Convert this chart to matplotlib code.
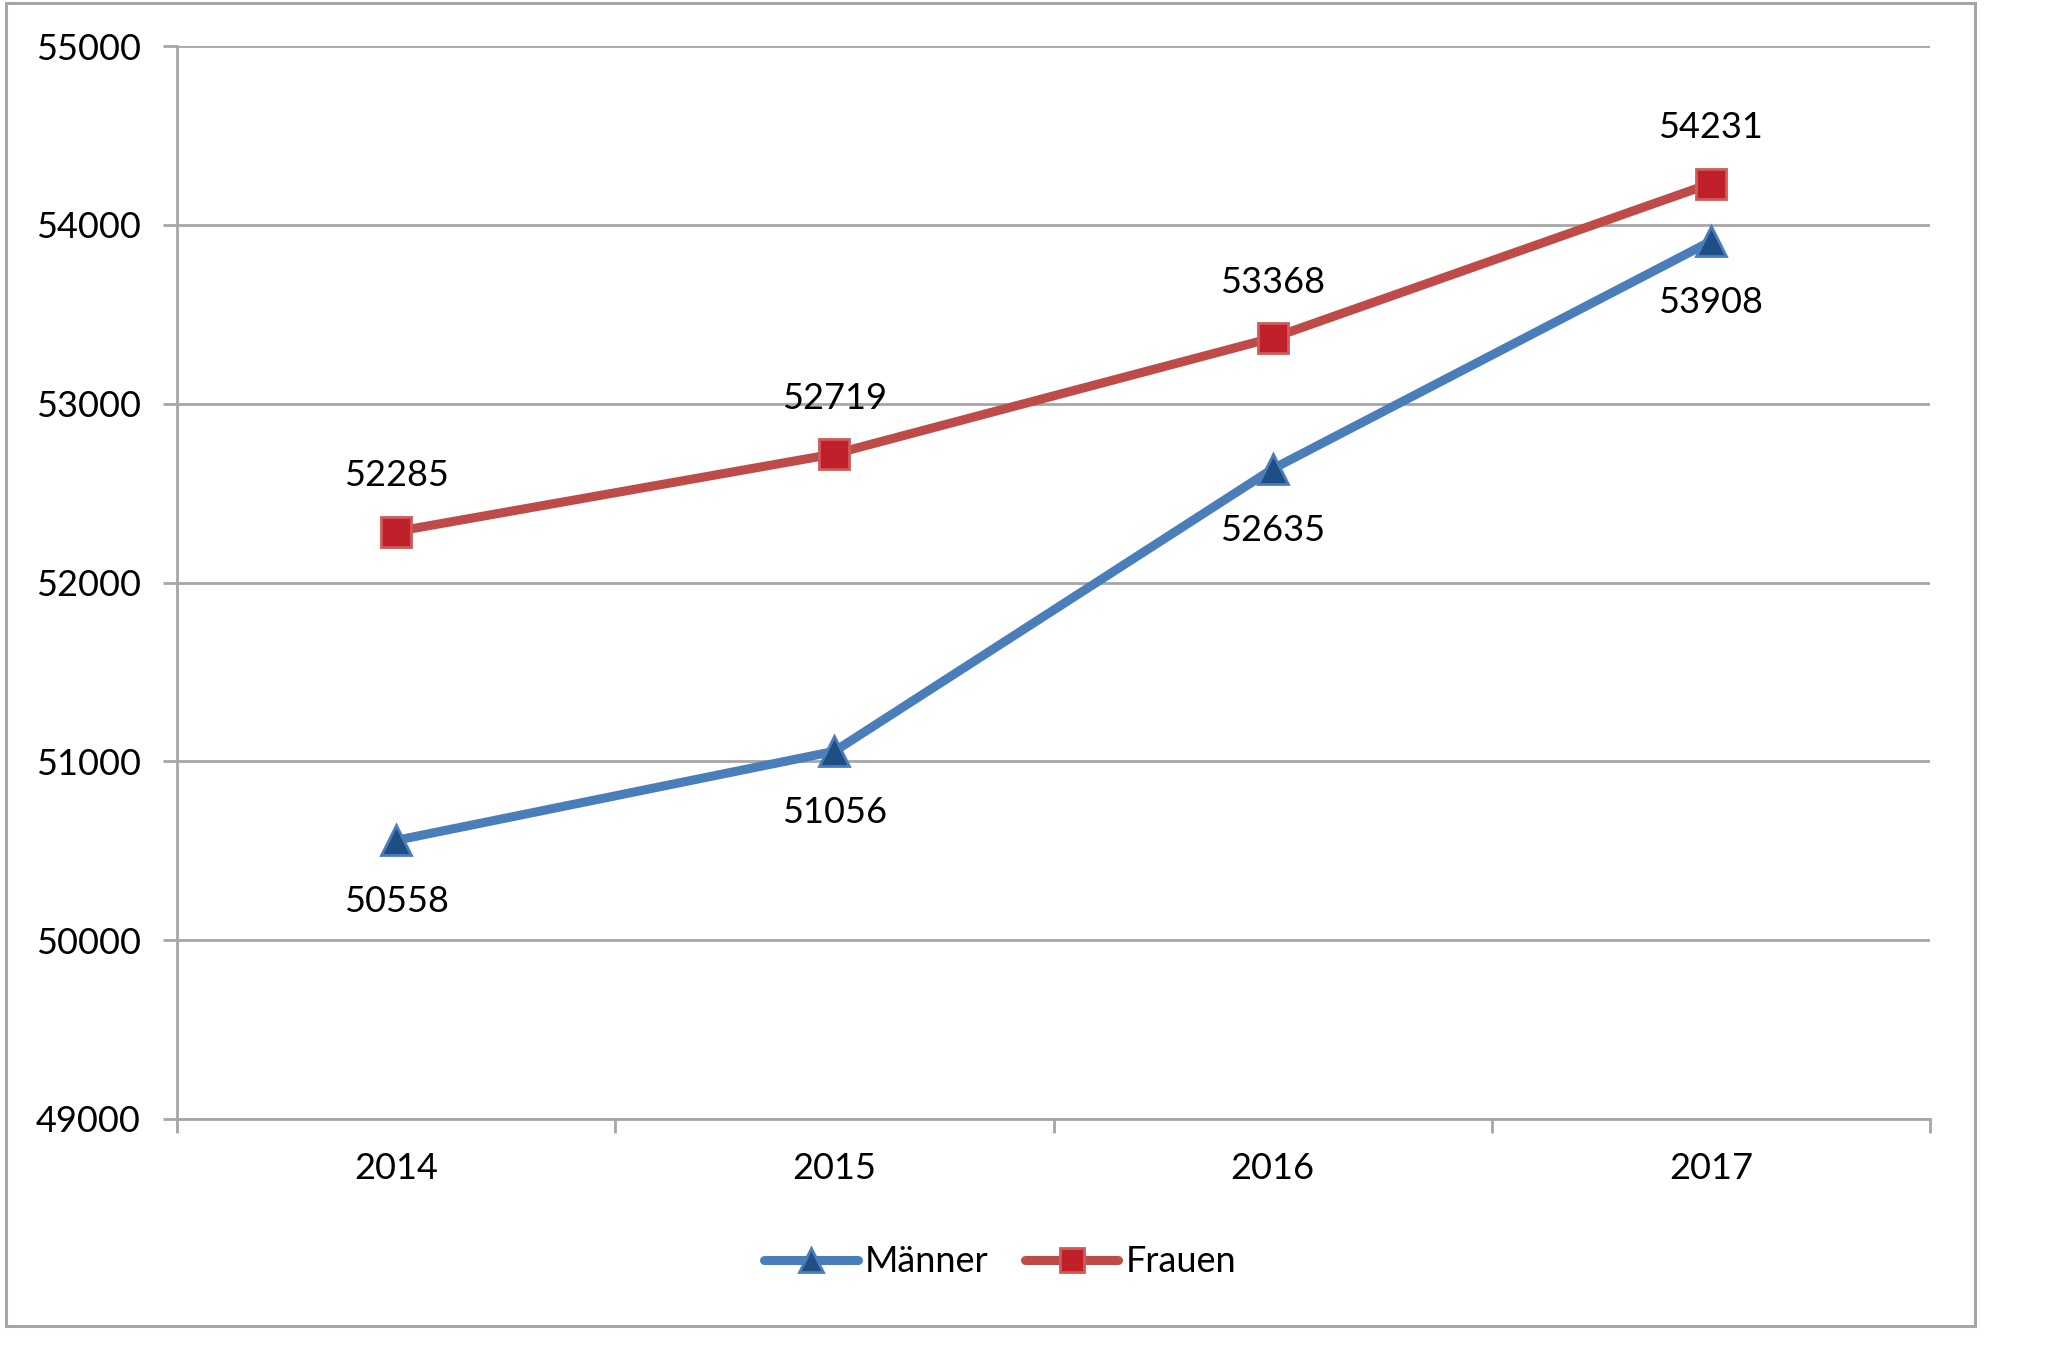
import matplotlib
matplotlib.use("Agg")
import matplotlib.pyplot as plt
from matplotlib.patches import Rectangle

years = ["2014", "2015", "2016", "2017"]
maenner = [50558, 51056, 52635, 53908]
frauen = [52285, 52719, 53368, 54231]
y_ticks = [49000, 50000, 51000, 52000, 53000, 54000, 55000]

plt.rcParams['font.family'] = ['Lato', 'DejaVu Sans']
fs = 26
grey = '#a6a6a6'

fig = plt.figure(figsize=(20.49, 13.48), dpi=100)
ax = fig.add_axes([177/2049, 1 - 1119/1348, (1930-177)/2049, (1119-46)/1348])

# outer chart frame
fig.patches.append(Rectangle((6/2049, 1 - 1326/1348), (1975-6)/2049, 1323/1348,
                             transform=fig.transFigure, fill=False,
                             edgecolor=grey, linewidth=2.2, zorder=0))

x = list(range(len(years)))
ax.plot(x, maenner, color='#4a7ebb', linewidth=6.5, marker='^', markersize=22,
        markerfacecolor='#1f4e85', markeredgecolor='#4a7ebb', markeredgewidth=2,
        label='Männer', zorder=3, solid_capstyle='round')
ax.plot(x, frauen, color='#be4b48', linewidth=6.5, marker='s', markersize=21,
        markerfacecolor='#c0202a', markeredgecolor='#cf5a58', markeredgewidth=2,
        label='Frauen', zorder=3, solid_capstyle='round')

for xi, v in zip(x, frauen):
    ax.annotate(str(v), (xi, v), xytext=(0, 40), textcoords='offset points',
                ha='center', va='center', fontsize=fs, color='black')
for xi, v in zip(x, maenner):
    ax.annotate(str(v), (xi, v), xytext=(0, -44), textcoords='offset points',
                ha='center', va='center', fontsize=fs, color='black')

ax.set_xlim(-0.5, 3.5)
ax.set_ylim(49000, 55000)
ax.set_yticks(y_ticks)
ax.set_yticklabels([str(t) for t in y_ticks], fontsize=fs)
ax.yaxis.grid(True, color=grey, linewidth=2)
ax.set_axisbelow(True)

ax.set_xticks([-0.5, 0.5, 1.5, 2.5, 3.5])
ax.set_xticklabels([])
ax.set_xticks(x, minor=True)
ax.set_xticklabels(years, minor=True, fontsize=fs)
ax.tick_params(axis='x', which='major', length=10, width=2, color=grey, direction='out')
ax.tick_params(axis='x', which='minor', length=0, pad=24)
ax.tick_params(axis='y', length=10, width=2, color=grey, pad=16)

for s in ['top', 'right']:
    ax.spines[s].set_visible(False)
for s in ['left', 'bottom']:
    ax.spines[s].set_color(grey)
    ax.spines[s].set_linewidth(2)

fig.legend(loc='center', bbox_to_anchor=(1000/2049, 1 - 1262/1348), ncol=2,
           frameon=False, fontsize=fs, handlelength=2.6, columnspacing=1.0,
           handletextpad=0.2, markerscale=0.8)

fig.savefig('out.png', dpi=100)
